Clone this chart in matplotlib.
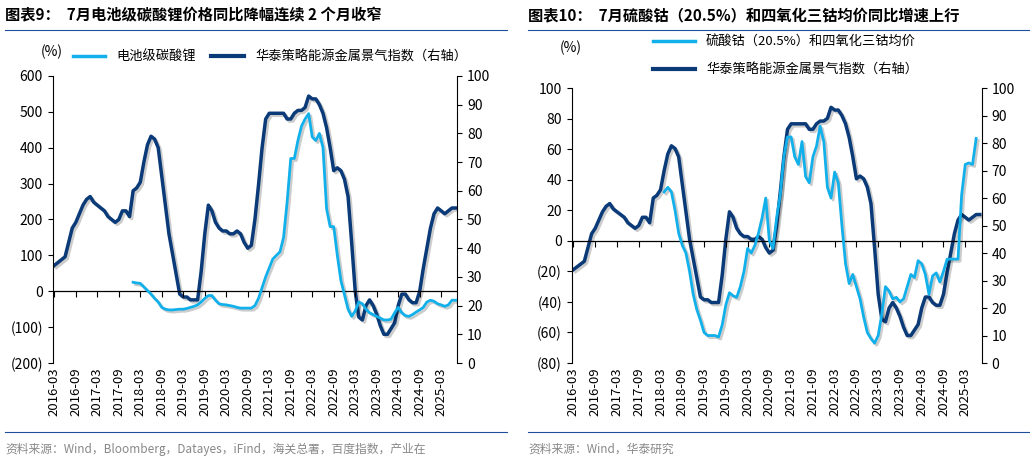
import matplotlib
matplotlib.use("Agg")
import matplotlib.pyplot as plt
import matplotlib.patheffects as pe
import numpy as np

plt.rcParams['font.family'] = ['Noto Sans CJK SC', 'DejaVu Sans']

# monthly from 2016-03 to 2025-07
index_vals = [34,35,36,37,42,47,49,52,55,57,
              58,56,55,54,53,51,50,49,50,53,53,51,
              60,61,63,70,76,79,78,75,65,55,45,38,
              31,24,23,23,22,22,22,32,45,55,53,49,
              47,46,46,45,45,46,45,42,40,41,50,62,
              75,85,87,87,87,87,87,85,85,87,88,88,
              89,93,92,92,90,87,82,75,67,68,67,64,
              58,42,25,16,15,20,22,20,17,13,10,10,
              12,14,20,24,24,22,21,21,25,33,40,47,
              52,54,53,52,53,54,54]
# lithium carbonate from 2018-01
lith_start = 22
lith_vals = [25,23,22,12,2,-8,-20,-30,-45,-50,-52,-52,
             -51,-50,-50,-48,-45,-42,-38,-30,-20,-12,-12,-25,
             -35,-37,-38,-40,-42,-45,-47,-47,-47,-47,-40,-20,
             10,40,65,90,100,110,150,250,370,370,420,460,
             480,495,430,420,440,400,230,180,180,100,30,-10,
             -50,-70,-55,-30,-35,-50,-60,-65,-70,-75,-80,-80,
             -78,-60,-45,-60,-68,-70,-65,-58,-52,-45,-30,-25,
             -28,-35,-38,-42,-38,-25,-25]
# cobalt from 2018-04
cob_start = 25
cob_vals = [32,35,32,20,5,-3,-8,-20,-35,
            -45,-52,-60,-62,-62,-62,-63,-55,-42,-34,-36,-37,
            -30,-20,-5,-8,-3,5,15,28,0,-5,15,30,
            55,68,68,55,50,65,42,38,55,62,75,65,
            35,28,45,38,10,-15,-28,-22,-30,-38,-50,-60,
            -64,-67,-62,-48,-30,-33,-38,-37,-40,-38,-30,-22,
            -24,-13,-15,-22,-35,-23,-21,-27,-20,-12,-12,-12,
            -12,30,50,51,50,67]

tick_pos = list(range(0, 112, 6))
tick_labels = []
for p in tick_pos:
    y = 2016 + (2 + p) // 12
    m = (2 + p) % 12 + 1
    tick_labels.append(f"{y}-{m:02d}")

DARK = '#0a3a78'
LIGHT = '#12b0ea'
shadow = [pe.SimpleLineShadow(offset=(1.5, -1.5), alpha=0.2), pe.Normal()]

fig = plt.figure(figsize=(10.30, 4.66), dpi=100)

def fmt(v):
    return f"({abs(int(v))})" if v < 0 else f"{int(v)}"

def panel(rect, lim, step, series, start, label, title, title_x, source, legend_rows):
    ax = fig.add_axes(rect)
    ax2 = ax.twinx()
    x_idx = np.arange(len(index_vals))
    xs = np.arange(start, start + len(series))
    ax.plot(xs, series, color=LIGHT, lw=2, path_effects=shadow, zorder=3)
    ax2.plot(x_idx, index_vals, color=DARK, lw=2.5, path_effects=shadow)
    ax.set_zorder(ax2.get_zorder() + 1); ax.patch.set_visible(False)
    ax.set_ylim(*lim); ax2.set_ylim(0, 100)
    yt = np.arange(lim[0], lim[1] + 1, step)
    ax.set_yticks(yt); ax.set_yticklabels([fmt(v) for v in yt])
    ax2.set_yticks(range(0, 101, 10))
    ax.set_xlim(-0.5, len(index_vals) - 0.5)
    ax.set_xticks(tick_pos); ax.set_xticklabels(tick_labels, rotation=90)
    ax.tick_params(axis='x', length=0, labelsize=9.5, pad=3)
    ax.tick_params(axis='y', labelsize=10, direction='out')
    ax2.tick_params(axis='y', labelsize=10)
    for a in (ax, ax2):
        for s in ('top', 'bottom'):
            a.spines[s].set_visible(False)
    ax2.spines['left'].set_visible(False); ax.spines['right'].set_visible(False)
    ax.axhline(0, color='black', lw=0.9, zorder=2)
    z = (0 - lim[0]) / (lim[1] - lim[0])
    sec = ax.secondary_xaxis(z)
    sec.set_xticks(tick_pos); sec.set_xticklabels([])
    sec.tick_params(direction='out', length=4)
    sec.spines['bottom'].set_visible(False)
    ax.text(-0.03, 1.07 if legend_rows == 1 else 1.13, '(%)', transform=ax.transAxes, fontsize=10)
    l1, = ax.plot([], [], color=LIGHT, lw=2.5)
    l2, = ax.plot([], [], color=DARK, lw=3)
    if legend_rows == 1:
        ax.legend([l1, l2], [label, '华泰策略能源金属景气指数（右轴）'], ncol=2, loc='lower left',
                  bbox_to_anchor=(0.02, 1.0), frameon=False, fontsize=9.5, handlelength=2.5, columnspacing=1.2)
    else:
        ax.legend([l1, l2], [label, '华泰策略能源金属景气指数（右轴）'], ncol=1, loc='lower left',
                  bbox_to_anchor=(0.17, 1.0), frameon=False, fontsize=9.5, handlelength=3.2, labelspacing=1.1)
    fig.text(title_x, 0.968, title, fontsize=11, fontweight='bold', va='center')
    fig.add_artist(plt.Line2D([title_x, title_x + 0.487], [0.935, 0.935], color='#1f4e9a', lw=0.8))
    fig.add_artist(plt.Line2D([title_x, title_x + 0.487], [0.072, 0.072], color='#1f4e9a', lw=0.8))
    fig.text(title_x, 0.05, source, fontsize=8.5, color='#888888', va='top')

panel([0.051, 0.221, 0.393, 0.616], (-200, 600), 100, lith_vals, lith_start, '电池级碳酸锂',
      '图表9：  7月电池级碳酸锂价格同比降幅连续 2 个月收窄', 0.005,
      '资料来源：Wind，Bloomberg，Datayes，iFind，海关总署，百度指数，产业在', 1)
panel([0.555, 0.221, 0.398, 0.590], (-80, 100), 20, cob_vals, cob_start, '硫酸钴（20.5%）和四氧化三钴均价',
      '图表10：  7月硫酸钴（20.5%）和四氧化三钴均价同比增速上行', 0.513,
      '资料来源：Wind，华泰研究', 2)

fig.savefig('out.png', dpi=100)
